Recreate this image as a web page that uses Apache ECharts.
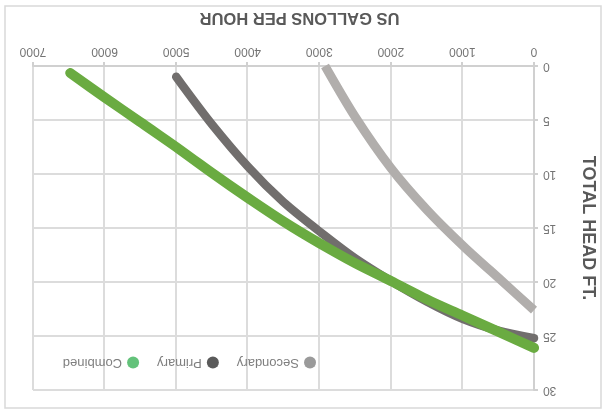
<!DOCTYPE html>
<html>
<head>
<meta charset="utf-8">
<title>Pump curves</title>
<script src="https://cdn.jsdelivr.net/npm/echarts@6/dist/echarts.min.js"></script>
<style>
  html, body { margin: 0; padding: 0; background: #fff; }
  /* the reference picture is turned upside down */
  #chart { width: 605px; height: 413px; transform: rotate(180deg); }
</style>
</head>
<body>
<div id="chart"></div>
<script>
const seriesNames = ['Secondary', 'Primary', 'Combined']

// US gallons per hour / total head ft.
const secondaryGph = [0, 500, 1000, 1500, 2000, 2500, 2920]
const secondaryHead = [22.6, 19.6, 16.6, 13.3, 9.45, 4.7, 0]

const primaryGph = [0, 500, 1000, 1500, 2000, 2500, 3000, 3500, 4000, 4500, 5000]
const primaryHead = [25.2, 24.5, 23.4, 21.8, 19.9, 17.8, 15.3, 12.6, 9.3, 5.4, 1.0]

const combinedGph = [0, 500, 1000, 1500, 2000, 2500, 3000, 3500, 4000, 4500, 5000, 5500, 6000, 6480]
const combinedHead = [26.1, 24.6, 23.1, 21.6, 19.9, 18.25, 16.4, 14.4, 12.2, 9.9, 7.5, 5.2, 2.9, 0.65]

const lineColors = ['#b1aeac', '#716e6d', '#6aab41']
const legendColors = ['#9a9a9a', '#5a5a5a', '#63c27a']

const font = 'Liberation Sans, Arial, sans-serif'

function pairs(xs, ys) {
  return xs.map((x, i) => [x, ys[i]])
}

function makeSeries(i, data, width, cap) {
  return {
    name: seriesNames[i],
    type: 'line',
    data: data,
    smooth: 0.3,
    showSymbol: false,
    lineStyle: { color: lineColors[i], width: width, cap: cap },
    itemStyle: { color: lineColors[i] }
  }
}

const chart = echarts.init(document.getElementById('chart'))
chart.setOption({
  animation: false,
  textStyle: { fontFamily: font },
  graphic: [{
    type: 'rect',
    shape: { x: 4, y: 5, width: 596, height: 402 },
    style: { fill: 'none', stroke: '#d9d9d9', lineWidth: 1.5 },
    silent: true
  }],
  grid: { left: 71, right: 33, top: 23, bottom: 66 },
  legend: {
    left: 284,
    top: 39,
    icon: 'circle',
    itemWidth: 12,
    itemHeight: 12,
    itemGap: 18,
    textStyle: { color: '#7f7f7f', fontSize: 13 },
    data: seriesNames.map((n, i) => ({ name: n, itemStyle: { color: legendColors[i] } }))
  },
  xAxis: {
    type: 'value',
    min: 0,
    max: 7000,
    interval: 1000,
    name: 'US GALLONS PER HOUR',
    nameLocation: 'middle',
    nameGap: 40,
    nameTextStyle: { color: '#595959', fontSize: 16.5, fontWeight: 'bold', padding: [0, 32, 0, 0] },
    axisLine: { lineStyle: { color: '#d0d0d0', width: 2 } },
    axisTick: { show: true, length: 4, lineStyle: { color: '#d0d0d0', width: 2 } },
    axisLabel: { color: '#737373', fontSize: 12, margin: 9, formatter: v => String(v) },
    splitLine: { lineStyle: { color: '#dcdcdc', width: 2 } }
  },
  yAxis: {
    type: 'value',
    min: 0,
    max: 30,
    interval: 5,
    name: 'TOTAL HEAD FT.',
    nameLocation: 'middle',
    nameGap: 45,
    nameTextStyle: { color: '#595959', fontSize: 18, fontWeight: 'bold' },
    axisLine: { show: true, lineStyle: { color: '#d0d0d0', width: 2 } },
    axisTick: { show: true, length: 4, lineStyle: { color: '#d0d0d0', width: 2 } },
    axisLabel: { color: '#737373', fontSize: 12, margin: 9 },
    splitLine: { lineStyle: { color: '#dcdcdc', width: 2 } }
  },
  series: [
    makeSeries(0, pairs(secondaryGph, secondaryHead), 9, 'butt'),
    makeSeries(1, pairs(primaryGph, primaryHead), 8.5, 'round'),
    makeSeries(2, pairs(combinedGph, combinedHead), 10, 'round')
  ]
})
</script>
</body>
</html>
